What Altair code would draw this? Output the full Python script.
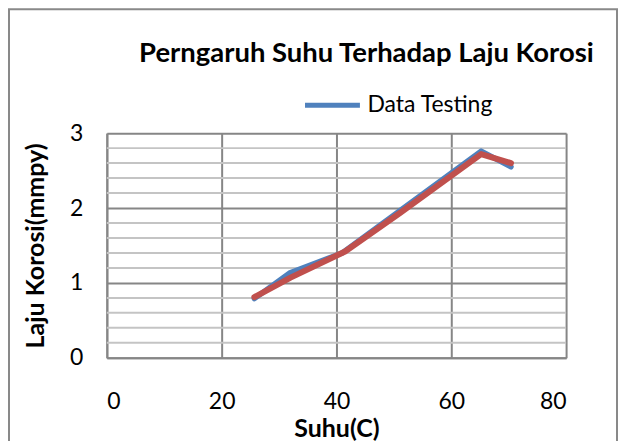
import altair as alt
import pandas as pd

# ---- data ----
temp_testing = [25.7, 31.8, 41.0, 65.2, 70.4]
rate_testing = [0.79, 1.13, 1.40, 2.76, 2.55]
temp_trend = [25.7, 32.0, 41.5, 51.0, 65.2, 70.4]
rate_trend = [0.81, 1.07, 1.42, 1.93, 2.72, 2.60]
x_ticks = [0, 20, 40, 60, 80]
y_ticks = [0, 1, 2, 3]
y_minor = [0.2, 0.4, 0.6, 0.8, 1.2, 1.4, 1.6, 1.8, 2.2, 2.4, 2.6, 2.8]

FONT = "Lato"
BLUE = "#4F81BD"
RED = "#C0504D"

df_test = pd.DataFrame({"Suhu": temp_testing, "Laju": rate_testing, "Seri": "Data Testing"})
df_trend = pd.DataFrame({"Suhu": temp_trend, "Laju": rate_trend})
df_minor = pd.DataFrame({"v": y_minor})
df_frame = pd.DataFrame({"a": [0]})

xs = alt.Scale(domain=[0, 80], nice=False, zero=False)
ys = alt.Scale(domain=[0, 3], nice=False)

x_axis = alt.Axis(
    values=x_ticks, title="Suhu(C)", grid=True, gridColor="#868686", gridWidth=2,
    domainColor="#868686", domainWidth=2, ticks=False, labelPadding=33,
    labelFont=FONT, labelFontSize=23, labelColor="black",
    titleFont=FONT, titleFontSize=25, titleFontWeight="bold", titleColor="black",
    titlePadding=3,
)
y_axis = alt.Axis(
    values=y_ticks, title="Laju Korosi(mmpy)", grid=True, gridColor="#868686", gridWidth=2,
    domainColor="#868686", domainWidth=2, ticks=False, labelPadding=24,
    labelFont=FONT, labelFontSize=23, labelColor="black",
    titleFont=FONT, titleFontSize=25, titleFontWeight="bold", titleColor="black",
    titlePadding=21,
)

frame = alt.Chart(df_frame).mark_rect(
    fillOpacity=0, stroke="#898989", strokeWidth=2
).encode(x=alt.value(-98), x2=alt.value(511), y=alt.value(-124), y2=alt.value(340))

minor = alt.Chart(df_minor).mark_rule(color="#C4C4C4", strokeWidth=2).encode(
    y=alt.Y("v:Q", scale=ys, axis=y_axis)
)

blue = alt.Chart(df_test).mark_line(strokeWidth=5.5, strokeCap="round", strokeJoin="round").encode(
    x=alt.X("Suhu:Q", scale=xs, axis=x_axis),
    y=alt.Y("Laju:Q", scale=ys, axis=y_axis),
    color=alt.Color(
        "Seri:N",
        scale=alt.Scale(domain=["Data Testing"], range=[BLUE]),
        legend=alt.Legend(
            title=None, orient="none", legendX=196, legendY=-58, padding=0,
            symbolType="stroke", symbolSize=3025, symbolStrokeWidth=5,
            labelFont=FONT, labelFontSize=23, labelColor="black", labelOffset=5,
        ),
    ),
)

red = alt.Chart(df_trend).mark_line(
    strokeWidth=6, color=RED, strokeCap="round", strokeJoin="round"
).encode(
    x=alt.X("Suhu:Q", scale=xs, axis=x_axis),
    y=alt.Y("Laju:Q", scale=ys, axis=y_axis),
)

chart = alt.layer(frame, minor, blue, red).properties(
    width=460,
    height=225,
    autosize=alt.AutoSizeParams(type="none"),
    padding={"left": 99, "top": 125, "right": 53, "bottom": 83},
    background="white",
    title=alt.TitleParams(
        text="Perngaruh Suhu Terhadap Laju Korosi", font=FONT, fontSize=27.5,
        fontWeight="bold", color="black", anchor="middle", frame="group", dx=30,
        offset=0, dy=59,
    ),
).configure_view(stroke=None)

chart.save("out.html", embed_options={"renderer": "svg", "actions": False})
